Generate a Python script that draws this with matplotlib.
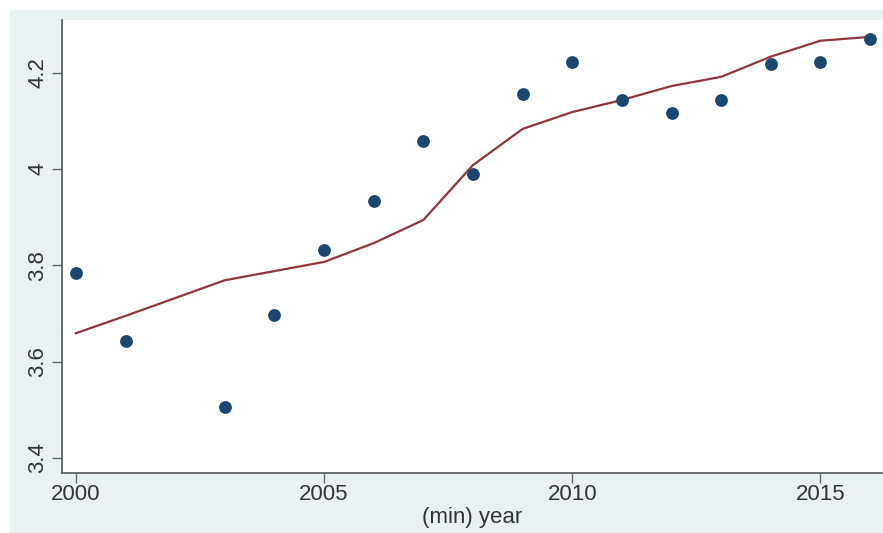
import matplotlib
matplotlib.use("Agg")
import matplotlib.pyplot as plt
from matplotlib.patches import Rectangle

# data
years = [2000, 2001, 2003, 2004, 2005, 2006, 2007, 2008,
         2009, 2010, 2011, 2012, 2013, 2014, 2015, 2016]
values = [3.784, 3.643, 3.506, 3.697, 3.832, 3.934, 4.058, 3.990,
          4.156, 4.222, 4.143, 4.116, 4.143, 4.218, 4.222, 4.270]
smooth = [3.659, 3.695, 3.769, 3.788, 3.807, 3.846, 3.894, 4.008,
          4.083, 4.118, 4.143, 4.172, 4.191, 4.233, 4.266, 4.274]

x_ticks = [2000, 2005, 2010, 2015]
y_ticks = [3.4, 3.6, 3.8, 4.0, 4.2]
y_labels = ["3.4", "3.6", "3.8", "4", "4.2"]

plt.rcParams["font.family"] = ["Liberation Sans", "DejaVu Sans"]

fig = plt.figure(figsize=(8.83, 5.33), dpi=100)
fig.patch.set_facecolor("white")
# light stata-like outer region
bg = Rectangle((10 / 883, 0), 1, 1 - 10 / 533, transform=fig.transFigure,
               facecolor="#e9f1f2", edgecolor="none")
bg.set_zorder(-10)
fig.add_artist(bg)

ax = fig.add_axes([62 / 883, 1 - 473 / 533, 820 / 883, (473 - 20) / 533])
ax.set_zorder(1)
ax.set_facecolor("white")

ax.scatter(years, values, s=85, color="#1a476f", zorder=3, linewidths=0)
ax.plot(years, smooth, color="#90353b", lw=1.6, zorder=2)

ax.set_xlim(1999.72, 2016.24)
ax.set_ylim(3.369, 4.309)
ax.set_xticks(x_ticks)
ax.set_yticks(y_ticks)
ax.set_yticklabels(y_labels, rotation=90, va="center")
ax.tick_params(labelsize=16, color="#666666", length=7, width=1,
               labelcolor="#333333")
ax.tick_params(axis="x", pad=1)
ax.tick_params(axis="y", pad=3)
ax.set_xlabel("(min) year", fontsize=16, color="#333333", labelpad=1)

for s in ["top", "right"]:
    ax.spines[s].set_visible(False)
for s in ["left", "bottom"]:
    ax.spines[s].set_color("#555555")
    ax.spines[s].set_linewidth(1.2)

fig.savefig("out.png", dpi=100)
